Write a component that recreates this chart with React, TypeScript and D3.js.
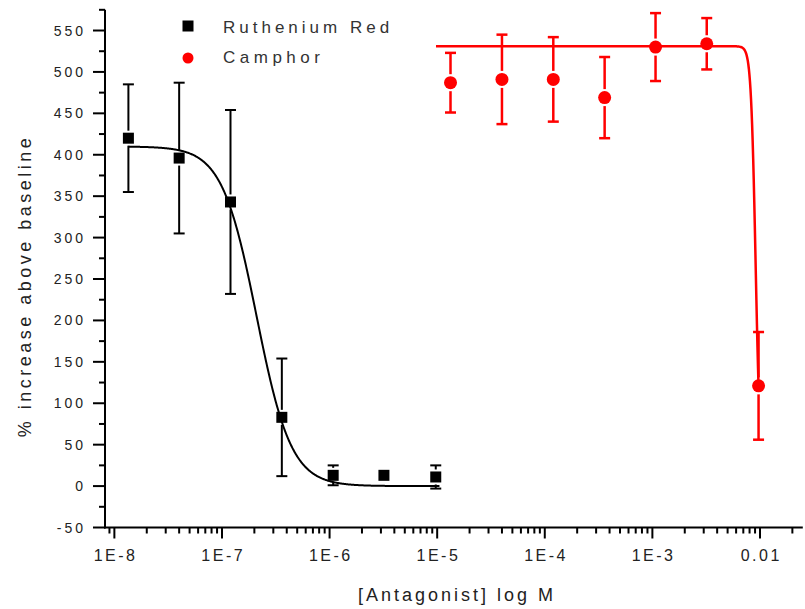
import React from "react";
import * as d3 from "d3";

// ---- data ----
const RR_CONC = [1.35e-8, 4e-8, 1.2e-7, 3.6e-7, 1.08e-6, 3.2e-6, 9.7e-6];
const RR_MEAN = [420, 396, 343, 83, 13, 13, 11];
const RR_ERR = [65, 91, 111, 71, 12, 4, 14];

const CA_CONC = [1.33e-5, 4e-5, 1.2e-4, 3.6e-4, 1.07e-3, 3.2e-3, 9.7e-3];
const CA_MEAN = [487, 491, 491, 469, 530, 534, 121];
const CA_ERR = [36, 54, 51, 49, 41, 31, 65];

const RR_FIT = { top: 410, bottom: 0, logIC50: -6.678, hill: 2.7, from: 1.35e-8, to: 1.05e-5 };
const CA_FIT = { top: 531, bottom: 0, logIC50: -2.04, hill: 20, from: 9.75e-6, to: 9.7e-3 };

const X_TICKS = [1e-8, 1e-7, 1e-6, 1e-5, 1e-4, 1e-3, 1e-2];
const X_TICK_LABELS = ["1E-8", "1E-7", "1E-6", "1E-5", "1E-4", "1E-3", "0.01"];
const Y_TICKS = [-50, 0, 50, 100, 150, 200, 250, 300, 350, 400, 450, 500, 550];
const Y_MINOR = [-25, 25, 75, 125, 175, 225, 275, 325, 375, 425, 475, 525, 575];

const SERIES_NAMES = ["Ruthenium Red", "Camphor"];
const X_TITLE = "[Antagonist] log M";
const Y_TITLE = "% increase above baseline";

const FONT = "'Liberation Sans', Arial, sans-serif";

export default function App() {
  const W = 805, H = 609;
  const x = d3.scaleLog().domain([8.2e-9, 0.025]).range([105.1, 802.8]);
  const y = d3.scaleLinear().domain([-50, 575]).range([527.5, 9.8]);

  const minorX: number[] = [];
  for (let e = -9; e <= -2; e++) {
    for (let m = 2; m <= 9; m++) {
      const v = m * Math.pow(10, e);
      if (v >= 8.2e-9 && v <= 0.025) minorX.push(v);
    }
  }

  const hillFn = (p: any) => (c: number) =>
    p.bottom + (p.top - p.bottom) / (1 + Math.pow(10, p.hill * (Math.log10(c) - p.logIC50)));

  const fitPath = (p: any) => {
    const f = hillFn(p);
    const lo = Math.log10(p.from), hi = Math.log10(p.to);
    const pts: [number, number][] = [];
    const N = 600;
    for (let i = 0; i <= N; i++) {
      const c = Math.pow(10, lo + ((hi - lo) * i) / N);
      pts.push([c, f(c)]);
    }
    return d3.line<[number, number]>().x((d) => x(d[0])).y((d) => y(d[1]))(pts) || "";
  };

  const errBars = (conc: number[], mean: number[], err: number[], color: string, half: number, sw: number) =>
    conc.map((c, i) => {
      const cx = x(c);
      const cy = y(mean[i]);
      const yt = y(mean[i] + err[i]);
      const yb = y(mean[i] - err[i]);
      const gap = 2;
      const els: any[] = [];
      if (cy - half - gap > yt) {
        els.push(<line key="t" x1={cx} x2={cx} y1={yt} y2={cy - half - gap} />);
        els.push(<line key="tc" x1={cx - 5.5} x2={cx + 5.5} y1={yt} y2={yt} />);
      }
      if (cy + half + gap < yb) {
        els.push(<line key="b" x1={cx} x2={cx} y1={cy + half + gap} y2={yb} />);
        els.push(<line key="bc" x1={cx - 5.5} x2={cx + 5.5} y1={yb} y2={yb} />);
      }
      return (
        <g key={i} stroke={color} strokeWidth={sw}>
          {els}
        </g>
      );
    });

  const axisY = 527.5;
  const axisX = 105;

  return (
    <svg width={W} height={H} style={{ position: "absolute", left: 0, top: 0, background: "#fff" }}
      fontFamily={FONT}>
      <rect x={0} y={0} width={W} height={H} fill="#fff" />

      {/* fit curves */}
      <path d={fitPath(RR_FIT)} fill="none" stroke="#000" strokeWidth={2} />
      <path d={fitPath(CA_FIT)} fill="none" stroke="#ff0000" strokeWidth={2.5} />

      {/* error bars */}
      {errBars(RR_CONC, RR_MEAN, RR_ERR, "#000", 5.5, 2)}
      {errBars(CA_CONC, CA_MEAN, CA_ERR, "#ff0000", 6.5, 2.5)}

      {/* markers */}
      {RR_CONC.map((c, i) => (
        <rect key={"rr" + i} x={x(c) - 5.5} y={y(RR_MEAN[i]) - 5.5} width={11} height={11} fill="#000" />
      ))}
      {CA_CONC.map((c, i) => (
        <circle key={"ca" + i} cx={x(c)} cy={y(CA_MEAN[i])} r={6.5} fill="#ff0000" />
      ))}

      {/* axes */}
      <g stroke="#000" strokeWidth={2}>
        <line x1={axisX} x2={axisX} y1={y(575)} y2={axisY + 1} />
        <line x1={axisX - 1} x2={x(0.025)} y1={axisY} y2={axisY} />
        {Y_TICKS.map((t) => (
          <line key={"yt" + t} x1={axisX - 12} x2={axisX} y1={y(t)} y2={y(t)} />
        ))}
        {Y_MINOR.map((t) => (
          <line key={"ym" + t} x1={axisX - 6} x2={axisX} y1={y(t)} y2={y(t)} />
        ))}
        {X_TICKS.map((t) => (
          <line key={"xt" + t} x1={x(t)} x2={x(t)} y1={axisY} y2={axisY + 11} />
        ))}
        {minorX.map((t) => (
          <line key={"xm" + t} x1={x(t)} x2={x(t)} y1={axisY} y2={axisY + 6} />
        ))}
      </g>

      {/* tick labels */}
      <g fill="#222" fontSize={14} letterSpacing={3}>
        {Y_TICKS.map((t) => (
          <text key={"yl" + t} x={86} y={y(t) + 5} textAnchor="end">
            {String(t)}
          </text>
        ))}
      </g>
      <g fill="#222" fontSize={16} letterSpacing={2.5}>
        {X_TICKS.map((t, i) => (
          <text key={"xl" + t} x={x(t) + 1.25} y={560.5} textAnchor="middle">
            {X_TICK_LABELS[i]}
          </text>
        ))}
      </g>

      {/* axis titles */}
      <text x={457} y={601} textAnchor="middle" fontSize={18} letterSpacing={3} fill="#222">
        {X_TITLE}
      </text>
      <text transform="translate(31,286) rotate(-90)" textAnchor="middle" fontSize={18} letterSpacing={3.5} fill="#222">
        {Y_TITLE}
      </text>

      {/* legend */}
      <rect x={182.5} y={20.5} width={11} height={11} fill="#000" />
      <circle cx={188} cy={58} r={5.5} fill="#ff0000" />
      <text x={223} y={33} fontSize={17} letterSpacing={4} fill="#333">
        {SERIES_NAMES[0]}
      </text>
      <text x={223} y={63} fontSize={17} letterSpacing={4.5} fill="#333">
        {SERIES_NAMES[1]}
      </text>
    </svg>
  );
}
